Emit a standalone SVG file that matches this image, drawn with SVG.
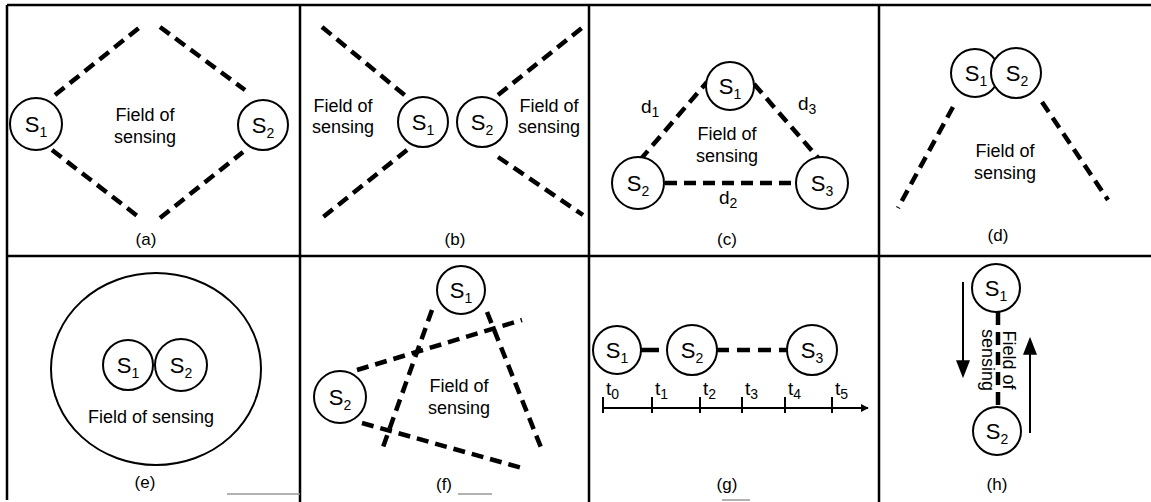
<svg xmlns="http://www.w3.org/2000/svg" width="1151" height="502" viewBox="0 0 1151 502">
<defs>
<marker id="ah" viewBox="0 0 10 10" refX="9" refY="5" markerWidth="8" markerHeight="8" markerUnits="userSpaceOnUse" orient="auto"><path d="M0,0 L10,5 L0,10 z" fill="#000"/></marker>
<marker id="ahBig" viewBox="0 0 10 10" refX="1" refY="5" markerWidth="18" markerHeight="14" markerUnits="userSpaceOnUse" orient="auto" preserveAspectRatio="none"><path d="M0,0 L10,5 L0,10 z" fill="#000"/></marker>
</defs>
<style>
text{font-family:"Liberation Sans",Arial,sans-serif;fill:#000}
.t{font-size:18px;text-anchor:middle}
.s{font-size:22px;text-anchor:middle}
.sub{font-size:14px}
.lab{font-size:17px;text-anchor:middle}
.tl{font-size:19px}
.frame{stroke:#000;stroke-width:2.5;fill:none}
.faint{stroke:#999;stroke-width:1.5;fill:none}
.node{fill:#fff;stroke:#000;stroke-width:2}
.dash{stroke:#000;stroke-width:4.5;stroke-dasharray:12 7;fill:none}
.thin{stroke:#000;stroke-width:2;fill:none}
</style>
<rect width="1151" height="502" fill="#fff"/>
<g id="frame">
<line class="frame" x1="7" y1="5" x2="1151" y2="5"/>
<line class="frame" x1="7" y1="5" x2="7" y2="500"/>
<line class="frame" x1="300" y1="5" x2="300" y2="502"/>
<line class="frame" x1="589" y1="5" x2="589" y2="502"/>
<line class="frame" x1="879" y1="5" x2="879" y2="502"/>
<line class="frame" x1="7" y1="256" x2="1151" y2="256"/>
<line class="faint" x1="227" y1="494" x2="300" y2="494"/>
<line class="faint" x1="458" y1="494" x2="492" y2="494"/>
<line class="faint" x1="722" y1="500" x2="750" y2="500"/>
</g>
<g id="connectors">
<!-- a -->
<line class="dash" x1="55" y1="95" x2="140" y2="27"/>
<line class="dash" x1="160" y1="27" x2="245" y2="90"/>
<line class="dash" x1="52" y1="150" x2="140" y2="218"/>
<line class="dash" x1="160" y1="218" x2="243" y2="152"/>
<!-- b -->
<line class="dash" x1="322" y1="27" x2="407" y2="97"/>
<line class="dash" x1="407" y1="150" x2="322" y2="218"/>
<line class="dash" x1="498" y1="95" x2="583" y2="27"/>
<line class="dash" x1="498" y1="157" x2="583" y2="215"/>
<!-- c -->
<line class="dash" x1="640" y1="160" x2="707" y2="82"/>
<line class="dash" x1="754" y1="84" x2="820" y2="160"/>
<line class="dash" x1="665" y1="183" x2="797" y2="183"/>
<!-- d -->
<line class="dash" x1="953" y1="107" x2="898" y2="208"/>
<line class="dash" x1="1042" y1="102" x2="1108" y2="200"/>
<!-- f -->
<line class="dash" x1="432" y1="310" x2="382" y2="450"/>
<line class="dash" x1="487" y1="312" x2="542" y2="450"/>
<line class="dash" x1="357" y1="370" x2="522" y2="320"/>
<line class="dash" x1="362" y1="423" x2="522" y2="468"/>
<!-- g -->
<line class="dash" x1="641" y1="350" x2="667" y2="350" style="stroke-dasharray:18 8"/>
<line class="dash" x1="716" y1="350" x2="788" y2="350" style="stroke-dasharray:13 8"/>
<line class="thin" x1="603" y1="408" x2="868" y2="408" marker-end="url(#ah)"/>
<g class="thin">
<line x1="603" y1="397" x2="603" y2="413"/>
<line x1="652" y1="397" x2="652" y2="413"/>
<line x1="700" y1="397" x2="700" y2="413"/>
<line x1="742" y1="397" x2="742" y2="413"/>
<line x1="785" y1="397" x2="785" y2="413"/>
<line x1="832" y1="397" x2="832" y2="413"/>
</g>
<!-- h -->
<line class="dash" x1="998" y1="312" x2="998" y2="408" style="stroke-dasharray:13 7"/>
<line class="thin" x1="963" y1="282" x2="963" y2="362" marker-end="url(#ahBig)"/>
<line class="thin" x1="1030" y1="433" x2="1030" y2="353" marker-end="url(#ahBig)"/>
</g>
<!-- panel a -->
<g id="a-s1"><circle class="node" cx="36" cy="124" r="26"/><text class="s" x="36" y="132">S<tspan class="sub" dy="5">1</tspan></text></g>
<g id="a-s2"><circle class="node" cx="263" cy="125" r="25"/><text class="s" x="263" y="133">S<tspan class="sub" dy="5">2</tspan></text></g>
<g id="a-field"><text class="t" x="145" y="121">Field of</text><text class="t" x="145" y="143">sensing</text></g>
<text class="lab" x="146" y="245">(a)</text>
<!-- panel b -->
<g id="b-s1"><circle class="node" cx="423" cy="122" r="25"/><text class="s" x="423" y="130">S<tspan class="sub" dy="5">1</tspan></text></g>
<g id="b-s2"><circle class="node" cx="482" cy="122" r="25"/><text class="s" x="482" y="130">S<tspan class="sub" dy="5">2</tspan></text></g>
<g id="b-field1"><text class="t" x="343" y="112">Field of</text><text class="t" x="343" y="133">sensing</text></g>
<g id="b-field2"><text class="t" x="549" y="112">Field of</text><text class="t" x="549" y="133">sensing</text></g>
<text class="lab" x="455" y="245">(b)</text>
<!-- panel c -->
<g id="c-s1"><circle class="node" cx="730" cy="86" r="24"/><text class="s" x="730" y="94">S<tspan class="sub" dy="5">1</tspan></text></g>
<g id="c-s2"><circle class="node" cx="638" cy="183" r="26"/><text class="s" x="638" y="191">S<tspan class="sub" dy="5">2</tspan></text></g>
<g id="c-s3"><circle class="node" cx="822" cy="183" r="26"/><text class="s" x="822" y="191">S<tspan class="sub" dy="5">3</tspan></text></g>
<g id="c-field"><text class="t" x="727" y="140">Field of</text><text class="t" x="727" y="162">sensing</text></g>
<text class="tl" x="641" y="113">d<tspan class="sub" dy="4">1</tspan></text>
<text class="tl" x="798" y="110">d<tspan class="sub" dy="4">3</tspan></text>
<text class="tl" x="719" y="204">d<tspan class="sub" dy="4">2</tspan></text>
<text class="lab" x="727" y="245">(c)</text>
<!-- panel d -->
<g id="d-s1"><circle class="node" cx="975" cy="73" r="24"/><text class="s" x="976" y="81">S<tspan class="sub" dy="5">1</tspan></text></g>
<g id="d-s2"><circle class="node" cx="1016" cy="73" r="25"/><text class="s" x="1017" y="81">S<tspan class="sub" dy="5">2</tspan></text></g>
<g id="d-field"><text class="t" x="1005" y="157">Field of</text><text class="t" x="1005" y="179">sensing</text></g>
<text class="lab" x="998" y="241">(d)</text>
<!-- panel e -->
<g id="e-field"><ellipse class="node" cx="156" cy="369" rx="105" ry="96"/><text class="t" x="151" y="423">Field of sensing</text></g>
<g id="e-s1"><circle class="node" cx="128" cy="365" r="25"/><text class="s" x="128" y="373">S<tspan class="sub" dy="5">1</tspan></text></g>
<g id="e-s2"><circle class="node" cx="181" cy="365" r="26"/><text class="s" x="181" y="373">S<tspan class="sub" dy="5">2</tspan></text></g>
<text class="lab" x="145" y="488">(e)</text>
<!-- panel f -->
<g id="f-s1"><circle class="node" cx="461" cy="290" r="24"/><text class="s" x="461" y="298">S<tspan class="sub" dy="5">1</tspan></text></g>
<g id="f-s2"><circle class="node" cx="340" cy="397" r="26"/><text class="s" x="340" y="405">S<tspan class="sub" dy="5">2</tspan></text></g>
<g id="f-field"><text class="t" x="459" y="392">Field of</text><text class="t" x="459" y="414">sensing</text></g>
<text class="lab" x="444" y="490">(f)</text>
<!-- panel g -->
<g id="g-s1"><circle class="node" cx="617" cy="350" r="24"/><text class="s" x="617" y="358">S<tspan class="sub" dy="5">1</tspan></text></g>
<g id="g-s2"><circle class="node" cx="692" cy="350" r="25"/><text class="s" x="692" y="358">S<tspan class="sub" dy="5">2</tspan></text></g>
<g id="g-s3"><circle class="node" cx="812" cy="350" r="25"/><text class="s" x="812" y="358">S<tspan class="sub" dy="5">3</tspan></text></g>
<g id="g-times">
<text class="tl" x="606" y="395">t<tspan class="sub" dy="4">0</tspan></text>
<text class="tl" x="655" y="395">t<tspan class="sub" dy="4">1</tspan></text>
<text class="tl" x="703" y="395">t<tspan class="sub" dy="4">2</tspan></text>
<text class="tl" x="745" y="395">t<tspan class="sub" dy="4">3</tspan></text>
<text class="tl" x="788" y="395">t<tspan class="sub" dy="4">4</tspan></text>
<text class="tl" x="835" y="395">t<tspan class="sub" dy="4">5</tspan></text>
</g>
<text class="lab" x="727" y="490">(g)</text>
<!-- panel h -->
<g id="h-s1"><circle class="node" cx="996" cy="288" r="24"/><text class="s" x="996" y="296">S<tspan class="sub" dy="5">1</tspan></text></g>
<g id="h-s2"><circle class="node" cx="997" cy="431" r="24"/><text class="s" x="997" y="439">S<tspan class="sub" dy="5">2</tspan></text></g>
<g id="h-field" transform="translate(998,360) rotate(90)"><text class="t" x="0" y="-5">Field of</text><text class="t" x="0" y="16">sensing</text></g>
<text class="lab" x="997" y="490">(h)</text>
</svg>
